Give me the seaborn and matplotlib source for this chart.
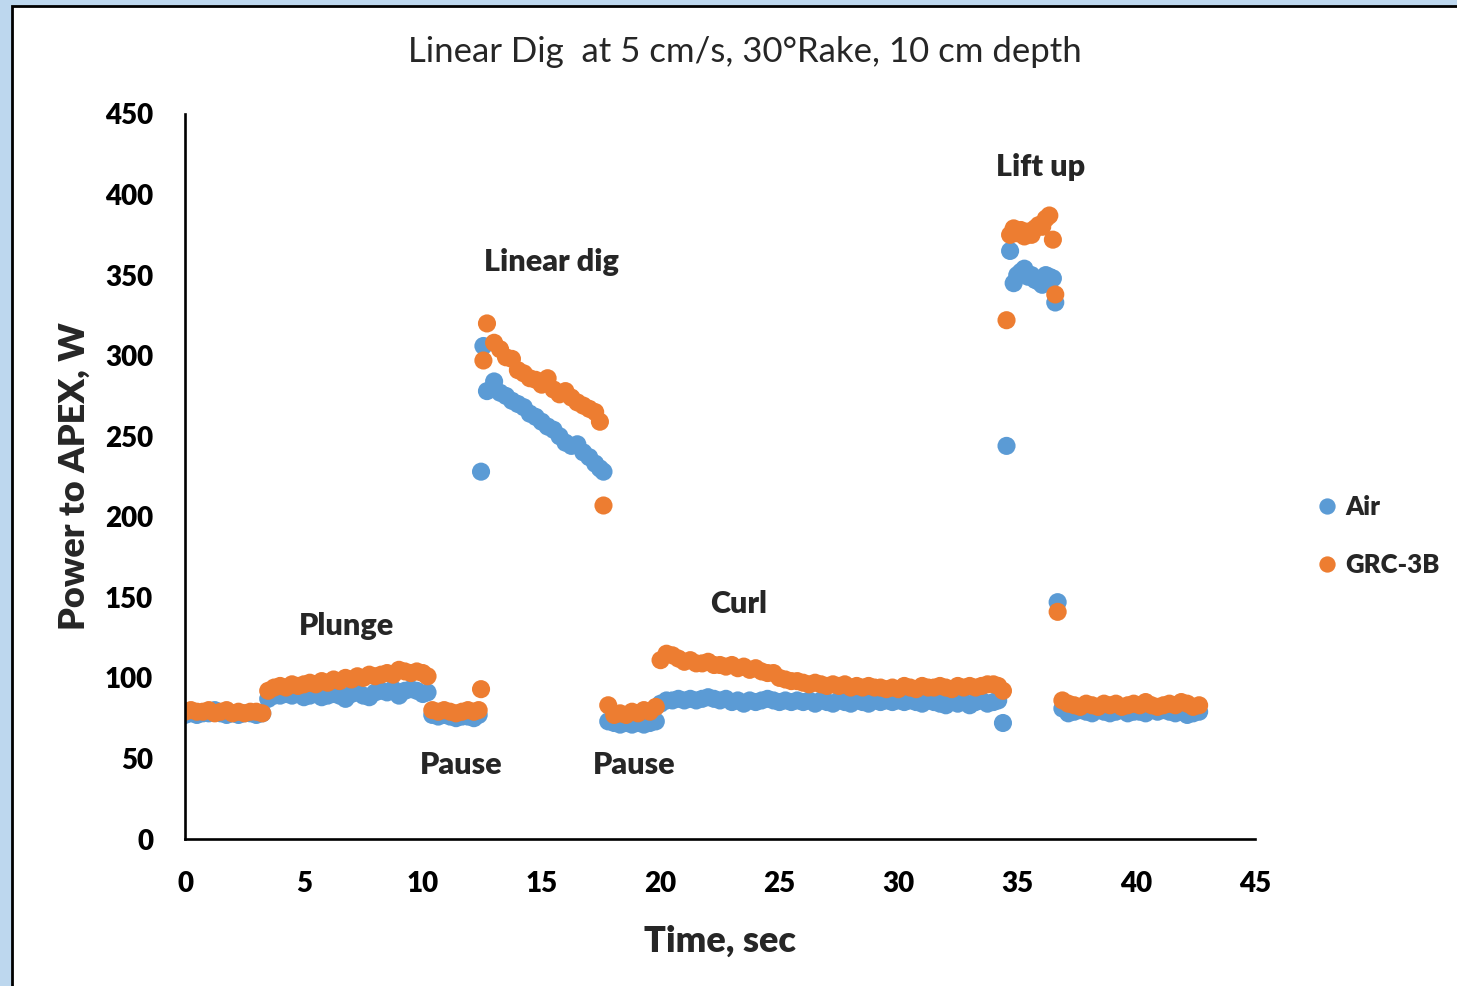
import pandas as pd
import matplotlib
matplotlib.use("Agg")
import matplotlib.pyplot as plt
import matplotlib.patches as mpatches
import seaborn as sns

# segment data: time (s), Air power (W), GRC-3B power (W)
t_start = [0, 0.25, 0.5, 0.75, 1.0, 1.25, 1.5, 1.75, 2.0, 2.25, 2.5, 2.75, 3.0, 3.25]
air_start = [77, 78, 77, 78, 78, 80, 78, 77, 78, 77, 78, 78, 77, 78]
grc_start = [79, 80, 79, 79, 80, 78, 79, 80, 78, 79, 78, 79, 79, 78]

t_plunge = [3.5, 3.75, 4.0, 4.25, 4.5, 4.75, 5.0, 5.25, 5.5, 5.75, 6.0, 6.25, 6.5, 6.75,
            7.0, 7.25, 7.5, 7.75, 8.0, 8.25, 8.5, 8.75, 9.0, 9.25, 9.5, 9.75, 10.0, 10.2]
air_plunge = [87, 89, 89, 90, 89, 90, 88, 89, 90, 88, 89, 90, 89, 87,
              90, 91, 89, 88, 91, 92, 91, 93, 89, 92, 93, 92, 90, 91]
grc_plunge = [92, 94, 95, 94, 96, 95, 96, 97, 96, 98, 97, 99, 98, 100,
              99, 101, 100, 102, 101, 102, 103, 102, 105, 104, 103, 104, 103, 101]

t_pause1 = [10.4, 10.65, 10.9, 11.15, 11.4, 11.65, 11.9, 12.15, 12.35]
air_pause1 = [77, 76, 77, 76, 75, 76, 76, 75, 77]
grc_pause1 = [80, 79, 80, 79, 78, 79, 80, 79, 80]

t_dig = [12.45, 12.55, 12.7, 13.0, 13.25, 13.5, 13.75, 14.0, 14.25, 14.5, 14.75, 15.0,
         15.25, 15.5, 15.75, 16.0, 16.25, 16.5, 16.75, 17.0, 17.25, 17.45, 17.6]
air_dig = [228, 306, 278, 284, 277, 275, 272, 270, 268, 264, 262, 259,
           256, 254, 250, 246, 244, 245, 240, 237, 233, 230, 228]
grc_dig = [93, 297, 320, 308, 304, 299, 298, 291, 289, 286, 285, 282,
           286, 279, 276, 278, 274, 271, 269, 267, 265, 259, 207]

t_pause2 = [17.8, 18.05, 18.3, 18.55, 18.8, 19.05, 19.3, 19.55, 19.8]
air_pause2 = [73, 72, 71, 72, 71, 72, 71, 72, 73]
grc_pause2 = [83, 77, 78, 77, 79, 78, 80, 79, 82]

t_curl = [20.0, 20.25, 20.5, 20.75, 21.0, 21.25, 21.5, 21.75, 22.0, 22.25, 22.5, 22.75,
          23.0, 23.25, 23.5, 23.75, 24.0, 24.25, 24.5, 24.75, 25.0, 25.25, 25.5, 25.75,
          26.0, 26.25, 26.5, 26.75, 27.0, 27.25, 27.5, 27.75, 28.0, 28.25, 28.5, 28.75,
          29.0, 29.25, 29.5, 29.75, 30.0, 30.25, 30.5, 30.75, 31.0, 31.25, 31.5, 31.75,
          32.0, 32.25, 32.5, 32.75, 33.0, 33.25, 33.5, 33.75, 34.0, 34.2, 34.4]
air_curl = [84, 86, 86, 87, 86, 87, 86, 87, 88, 87, 86, 87,
            85, 86, 84, 86, 85, 86, 87, 86, 85, 86, 85, 86,
            85, 86, 84, 86, 85, 84, 86, 85, 84, 86, 85, 84,
            86, 85, 86, 85, 86, 85, 86, 85, 84, 86, 85, 84,
            83, 85, 84, 85, 83, 85, 86, 84, 85, 86, 72]
grc_curl = [111, 115, 114, 112, 110, 111, 109, 109, 110, 108, 108, 107,
            108, 106, 107, 105, 106, 104, 103, 103, 100, 99, 98, 98,
            97, 96, 97, 96, 95, 96, 95, 96, 94, 95, 94, 95,
            94, 94, 93, 94, 93, 95, 94, 93, 95, 94, 94, 95,
            94, 93, 95, 94, 95, 94, 95, 96, 96, 95, 92]

t_lift = [34.55, 34.7, 34.85, 35.0, 35.15, 35.3, 35.45, 35.6, 35.75, 35.9,
          36.05, 36.2, 36.35, 36.5, 36.6, 36.7]
air_lift = [244, 365, 345, 350, 352, 354, 349, 350, 347, 346,
            344, 350, 349, 348, 333, 147]
grc_lift = [322, 375, 379, 376, 378, 374, 377, 375, 379, 381,
            380, 385, 387, 372, 338, 141]

t_end = [36.9, 37.15, 37.4, 37.65, 37.9, 38.15, 38.4, 38.65, 38.9, 39.15, 39.4, 39.65,
         39.9, 40.15, 40.4, 40.65, 40.9, 41.15, 41.4, 41.65, 41.9, 42.15, 42.4, 42.65]
air_end = [81, 78, 79, 80, 79, 78, 80, 79, 78, 79, 80, 78,
           79, 79, 78, 80, 79, 80, 79, 78, 79, 77, 78, 79]
grc_end = [86, 84, 83, 82, 84, 83, 82, 84, 83, 84, 82, 83,
           84, 83, 85, 83, 82, 83, 84, 83, 85, 84, 82, 83]

labels = ["Air", "GRC-3B"]
colors = {"Air": "#5B9BD5", "GRC-3B": "#ED7D31"}

phases = [("Plunge", 6.8, 132), ("Linear dig", 15.4, 358), ("Pause", 11.6, 46),
          ("Pause", 18.9, 46), ("Curl", 23.3, 146), ("Lift up", 36.0, 417)]


def build_frame():
    t = t_start + t_plunge + t_pause1 + t_dig + t_pause2 + t_curl + t_lift + t_end
    air = air_start + air_plunge + air_pause1 + air_dig + air_pause2 + air_curl + air_lift + air_end
    grc = grc_start + grc_plunge + grc_pause1 + grc_dig + grc_pause2 + grc_curl + grc_lift + grc_end
    df_air = pd.DataFrame({"Time": t, "Power": air, "Series": labels[0]})
    df_grc = pd.DataFrame({"Time": t, "Power": grc, "Series": labels[1]})
    return pd.concat([df_air, df_grc], ignore_index=True)


def main():
    sns.set_theme(style="white")
    plt.rcParams["font.family"] = ["Lato", "DejaVu Sans"]
    bold = "heavy"

    df = build_frame()

    fig = plt.figure(figsize=(14.57, 9.86), dpi=100)
    fig.patch.set_facecolor("#BDD7EE")
    frame = mpatches.Rectangle((12 / 1457, -0.05), 1.1, 1.05 - 6 / 986,
                               transform=fig.transFigure, facecolor="white",
                               edgecolor="black", linewidth=2.0, zorder=-1)
    fig.patches.append(frame)

    ax = fig.add_axes([185 / 1457, 1 - 839 / 986, 1070 / 1457, 725 / 986])
    ax.set_facecolor("none")

    sns.scatterplot(data=df, x="Time", y="Power", hue="Series", hue_order=labels,
                    palette=colors, s=170, linewidth=0, alpha=1, ax=ax)

    ax.set_xlim(0, 45)
    ax.set_ylim(0, 450)
    ax.set_xticks(range(0, 46, 5))
    ax.set_yticks(range(0, 451, 50))
    for side in ["top", "right"]:
        ax.spines[side].set_visible(False)
    for side in ["left", "bottom"]:
        ax.spines[side].set_color("black")
        ax.spines[side].set_linewidth(1.9)
    ax.tick_params(direction="in", length=6, width=1.5, colors="black",
                   labelsize=20, pad=23)
    for lab in ax.get_xticklabels() + ax.get_yticklabels():
        lab.set_fontweight(bold)

    ax.set_xlabel("Time, sec", fontsize=26, fontweight=bold, labelpad=20)
    ax.set_ylabel("Power to APEX, W", fontsize=26, fontweight=bold, labelpad=10)

    for name, x, y in phases:
        ax.text(x, y, name, fontsize=22, fontweight=bold, ha="center", va="center")

    fig.text(745 / 1457, 1 - 52 / 986, "Linear Dig  at 5 cm/s, 30°Rake, 10 cm depth",
             fontsize=25, ha="center", va="center")

    sns.move_legend(ax, "center left", bbox_to_anchor=(1304 / 1457, 1 - 536 / 986),
                    bbox_transform=fig.transFigure, frameon=False, title=None,
                    fontsize=18.5, markerscale=0.9, handlelength=0.8,
                    handletextpad=0.3, labelspacing=1.35, borderpad=0)
    for txt in ax.get_legend().get_texts():
        txt.set_fontweight(bold)

    fig.savefig("out.png", dpi=100, facecolor=fig.get_facecolor())


if __name__ == "__main__":
    main()
